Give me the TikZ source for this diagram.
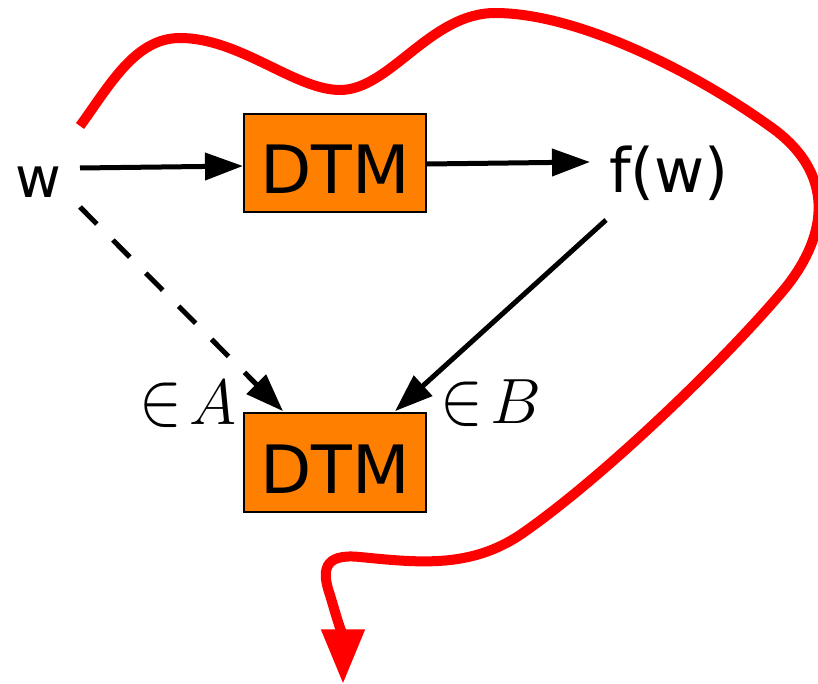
\RequirePackage{fix-cm}
\documentclass[tikz,border=0pt]{standalone}
\usepackage[no-math]{fontspec}
\usepackage{graphicx}
\setmainfont{DejaVu Sans}
\usetikzlibrary{arrows.meta}
\definecolor{dtmorange}{HTML}{FF8000}
\definecolor{curvered}{HTML}{FF0000}
\newcommand{\tallin}{\scalebox{1}[1.2]{$\in$}}
\begin{document}
\begin{tikzpicture}[x=0.75pt,y=-0.75pt,
  dtm/.style={draw=black, line width=1.5pt, fill=dtmorange, minimum width=136.5pt,
    minimum height=74pt, inner sep=0pt, text height=46.5pt, text depth=0pt,
    font=\fontsize{50}{60}\selectfont},
  lbl/.style={inner sep=0pt, font=\fontsize{#1}{#1}\selectfont},
  conn/.style={line width=3.75pt, -{Triangle[length=28.5pt,width=20pt]}},
  dashconn/.style={conn, dash pattern=on 18pt off 17pt},
  redpath/.style={draw=curvered, line width=7.5pt, -{Triangle[length=41pt,width=31pt]}}]
\useasboundingbox (0,0) rectangle (818,684);
\node[dtm] (d1) at (335,163) {DTM};
\node[dtm] (d2) at (335,462.5) {DTM};
\node[lbl=42, anchor=base] (w) at (38,198) {w};
\node[lbl=46, anchor=base] (fw) at (669,193) {f(w)};
\node[lbl=48, anchor=base east] (inA) at (237,425) {\tallin$\mkern2mu A$};
\node[lbl=48, anchor=base west] (inB) at (440,423) {\tallin$\mkern2mu B$};
\draw[conn] ([shift={(42,-30)}]w.base) -- ([shift={(0,3)}]d1.west);
\draw[conn] ([shift={(0,1)}]d1.east) -- ([shift={(-79,-31)}]fw.base);
\draw[dashconn] ([shift={(42,9)}]w.base) -- ([shift={(-52,-1)}]d2.north);
\draw[conn] ([shift={(-63,27)}]fw.base) -- ([shift={(60,-1)}]d2.north);
\coordinate (rs) at (80,126);
\coordinate (re) at (343,684);
\draw[redpath] (rs) .. controls (110,85) and (135,38) .. (180,38)
  .. controls (240,38) and (295,90) .. (340,90)
  .. controls (390,90) and (430,13) .. (495,13)
  .. controls (580,13) and (700,75) .. (775,130)
  .. controls (838,178) and (826,240) .. (782,292)
  .. controls (720,365) and (600,480) .. (520,535)
  .. controls (470,568) and (420,563) .. (360,557)
  .. controls (322,553) and (322,572) .. (330,595)
  .. controls (336,615) and (343,640) .. (re);
\end{tikzpicture}
\end{document}
